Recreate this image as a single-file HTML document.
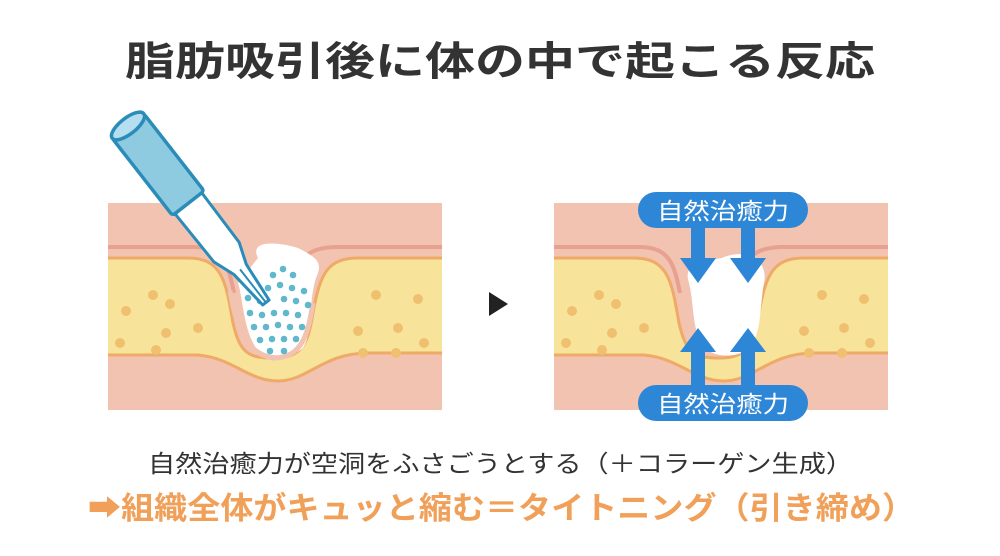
<!DOCTYPE html>
<html><head><meta charset="utf-8"><style>
html,body{margin:0;padding:0;background:#fff;}
svg{display:block;}
text{font-family:"Liberation Sans","Noto Sans CJK JP",sans-serif;}
</style></head><body>
<svg width="1000" height="556" viewBox="0 0 1000 556" xmlns="http://www.w3.org/2000/svg">
<defs>
<g id="skin">
  <rect x="0" y="0" width="334" height="207" fill="#f2c3b1"/>
  <path d="M0,44 L85,44 C115,44 120,60 126,90 M180,90 C188,55 200,44 230,44 L334,44" fill="none" stroke="#e8a090" stroke-width="4"/>
  <path d="M0,55 L80,55 C115,55 118,80 125,120 C132,150 140,155 165,155 C195,155 200,140 205,110 C212,70 220,55 250,55 L334,55 L334,150 L260,150 C215,150 200,178 170,178 C140,178 125,155 90,152 L0,152 Z" fill="#f8e39a"/>
  <path d="M0,55 L80,55 C115,55 118,80 125,120 C132,150 140,155 165,155 C195,155 200,140 205,110 C212,70 220,55 250,55 L334,55" fill="none" stroke="#eeaa66" stroke-width="3"/>
  <path d="M334,150 L260,150 C215,150 200,178 170,178 C140,178 125,155 90,152 L0,152" fill="none" stroke="#eeaa66" stroke-width="3"/>
  <g fill="#eec070">
    <circle cx="18" cy="108" r="5"/><circle cx="45" cy="92" r="5"/><circle cx="12" cy="140" r="5"/>
    <circle cx="58" cy="130" r="5"/><circle cx="90" cy="125" r="5"/>
    <circle cx="62" cy="101" r="5"/><circle cx="48" cy="147" r="5"/>
    <circle cx="268" cy="92" r="5"/><circle cx="310" cy="96" r="5"/><circle cx="250" cy="128" r="5"/>
    <circle cx="290" cy="125" r="5"/><circle cx="316" cy="140" r="5"/>
    <circle cx="255" cy="150" r="5"/><circle cx="288" cy="150" r="5"/>
  </g>
</g>
</defs>

<text x="500" y="75" font-size="40" font-weight="bold" fill="#333" text-anchor="middle" textLength="750" lengthAdjust="spacingAndGlyphs">脂肪吸引後に体の中で起こる反応</text>

<g transform="translate(108,203)">
  <use href="#skin"/>
  <path d="M150,55 C140,35 175,40 190,45 C210,55 215,60 208,75 C200,100 205,130 195,145 C185,155 160,155 148,145 C135,125 135,95 130,80 Z" fill="#fff"/>
  <path d="M122,88 C128,120 135,150 165,155 C195,155 200,130 205,100" fill="none" stroke="#f2c3b1" stroke-width="5"/>
  <g fill="#5fb8cc">
    <circle cx="165" cy="72" r="3.3"/><circle cx="175" cy="66" r="3.3"/><circle cx="185" cy="72" r="3.3"/>
    <circle cx="160" cy="85" r="3.3"/><circle cx="172" cy="82" r="3.3"/><circle cx="184" cy="85" r="3.3"/><circle cx="196" cy="88" r="3.3"/>
    <circle cx="140" cy="95" r="3.3"/><circle cx="152" cy="98" r="3.3"/><circle cx="176" cy="96" r="3.3"/><circle cx="188" cy="98" r="3.3"/><circle cx="200" cy="102" r="3.3"/>
    <circle cx="142" cy="110" r="3.3"/><circle cx="154" cy="112" r="3.3"/><circle cx="166" cy="110" r="3.3"/><circle cx="178" cy="110" r="3.3"/><circle cx="190" cy="112" r="3.3"/>
    <circle cx="146" cy="124" r="3.3"/><circle cx="158" cy="124" r="3.3"/><circle cx="170" cy="122" r="3.3"/><circle cx="182" cy="124" r="3.3"/><circle cx="194" cy="124" r="3.3"/>
    <circle cx="152" cy="137" r="3.3"/><circle cx="164" cy="136" r="3.3"/><circle cx="176" cy="136" r="3.3"/><circle cx="188" cy="136" r="3.3"/>
    <circle cx="162" cy="148" r="3.3"/><circle cx="176" cy="148" r="3.3"/>
  </g>
</g>
<g transform="translate(128,126) rotate(52)">
  <path d="M98,-17 L160,-16 L182,-8 L224,-4 L224,4 L182,8 L160,16 L98,17 Z" fill="#fff" stroke="#2a8cb8" stroke-width="3" stroke-linejoin="round"/>
  <line x1="182" y1="0" x2="224" y2="0" stroke="#2a8cb8" stroke-width="2"/>
  <rect x="0" y="-20" width="98" height="40" fill="#8ecbe0" stroke="#2a8cb8" stroke-width="3.5" rx="3"/>
  <ellipse cx="0" cy="0" rx="8" ry="20" fill="#b5def0" stroke="#2a8cb8" stroke-width="3.5"/>
</g>

<path d="M489,292 L508,304 L489,316 Z" fill="#222"/>

<g transform="translate(554,203)">
  <use href="#skin"/>
  <path d="M168,55 C190,45 215,55 210,80 C206,100 208,125 198,142 C188,156 158,156 148,142 C138,125 140,100 135,80 C128,60 150,58 168,55 Z" fill="#fff"/>
</g>
<g fill="#2e86d6">
  <rect x="691" y="222" width="14" height="40"/><path d="M680,258 L716,258 L698,283 Z"/>
  <rect x="741" y="222" width="14" height="40"/><path d="M730,258 L766,258 L748,283 Z"/>
  <rect x="691" y="348" width="14" height="42"/><path d="M680,352 L716,352 L698,328 Z"/>
  <rect x="741" y="348" width="14" height="42"/><path d="M730,352 L766,352 L748,328 Z"/>
  <rect x="638" y="192" width="170" height="36" rx="18"/>
  <rect x="638" y="385" width="170" height="36" rx="18"/>
</g>
<text x="723" y="219" font-size="23" fill="#fff" text-anchor="middle" textLength="132" lengthAdjust="spacingAndGlyphs">自然治癒力</text>
<text x="723" y="412" font-size="23" fill="#fff" text-anchor="middle" textLength="132" lengthAdjust="spacingAndGlyphs">自然治癒力</text>

<text x="148" y="472" font-size="24" fill="#333" textLength="705" lengthAdjust="spacingAndGlyphs">自然治癒力が空洞をふさごうとする（＋コラーゲン生成）</text>
<text x="88" y="519" font-size="31" font-weight="bold" fill="#f0a058" textLength="827" lengthAdjust="spacingAndGlyphs">➡組織全体がキュッと縮む＝タイトニング（引き締め）</text>
</svg>
</body></html>
